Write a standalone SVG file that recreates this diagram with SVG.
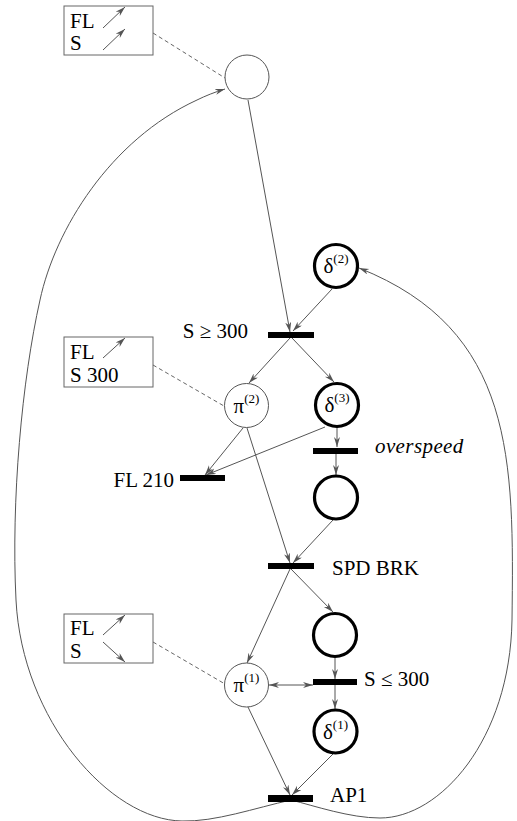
<svg xmlns="http://www.w3.org/2000/svg" width="517" height="821" viewBox="0 0 517 821">
  <style>
    text { font-family: "Liberation Serif", "Times New Roman", serif; font-size: 21px; fill: #000; }
    .sup { font-size: 13px; }
    .ital { font-style: italic; letter-spacing: 0.4px; }
    .place { fill: #fff; stroke: #555; stroke-width: 1; }
    .thick { fill: #fff; stroke: #000; stroke-width: 3.2; }
    .bar { fill: #000; }
    .box { fill: #fff; stroke: #666; stroke-width: 1; }
    .arc { fill: none; stroke: #555; stroke-width: 1; marker-end: url(#ah); }
    .both { marker-start: url(#ah); }
    .dash { fill: none; stroke: #666; stroke-width: 1; stroke-dasharray: 4 3; }
  </style>
  <defs>
    <marker id="ah" markerUnits="userSpaceOnUse" markerWidth="11" markerHeight="7" refX="10" refY="3" orient="auto-start-reverse">
      <path d="M0,0 L10,3 L0,6 L3,3 z" fill="#555"/>
    </marker>
  </defs>

  <rect width="517" height="821" fill="#fff"/>

  <!-- connectors -->
  <g id="connectors">
    <line class="arc" x1="248" y1="100" x2="290" y2="332"/>
    <line class="arc" x1="332" y1="289" x2="293" y2="331"/>
    <line class="arc" x1="290" y1="338" x2="249" y2="383"/>
    <line class="arc" x1="292" y1="338" x2="334" y2="382"/>
    <line class="arc" x1="337" y1="427" x2="337" y2="447"/>
    <line class="arc" x1="325" y1="427" x2="206" y2="475"/>
    <line class="arc" x1="243" y1="428" x2="205" y2="475"/>
    <line class="arc" x1="247" y1="428" x2="290" y2="563"/>
    <line class="arc" x1="336" y1="454" x2="336" y2="475"/>
    <line class="arc" x1="333" y1="520" x2="293" y2="563"/>
    <line class="arc" x1="291" y1="569" x2="333" y2="612"/>
    <line class="arc" x1="290" y1="569" x2="247" y2="663"/>
    <line class="arc" x1="335" y1="658" x2="335" y2="679"/>
    <line class="arc both" x1="269" y1="685" x2="313" y2="685"/>
    <line class="arc" x1="335" y1="685" x2="335" y2="709"/>
    <line class="arc" x1="248" y1="707" x2="290" y2="795"/>
    <line class="arc" x1="333" y1="754" x2="292" y2="795"/>
    <!-- AP1 back to the initial place, round the left side -->
    <path class="arc" d="M291,800 C255,808 215,822 182,821 C110,820 22,720 16,600 C11,500 22,380 40,300 C55,230 110,140 197,100 C205,96 215,92 225,89"/>
    <!-- AP1 back to delta(2), round the right side -->
    <path class="arc" d="M291,800 C315,806 350,818 380,818 C440,818 510,740 512,620 C514,460 515,330 359,268"/>
    <!-- annotation links -->
    <line class="dash" x1="153" y1="33" x2="225" y2="78"/>
    <line class="dash" x1="153" y1="365" x2="224" y2="406"/>
    <line class="dash" x1="153" y1="642" x2="225" y2="684"/>
  </g>

  <!-- annotation boxes -->
  <g id="box-top">
    <rect class="box" x="64" y="6" width="89" height="49"/>
    <text x="70" y="28">FL</text>
    <text x="70" y="50">S</text>
    <line class="arc" x1="103" y1="28" x2="125" y2="7"/>
    <line class="arc" x1="103" y1="50" x2="125" y2="29"/>
  </g>
  <g id="box-mid">
    <rect class="box" x="64" y="337" width="89" height="50"/>
    <text x="70" y="359">FL</text>
    <text x="70" y="382">S 300</text>
    <line class="arc" x1="103" y1="358" x2="125" y2="338"/>
  </g>
  <g id="box-low">
    <rect class="box" x="64" y="614" width="89" height="49"/>
    <text x="70" y="635">FL</text>
    <text x="70" y="658">S</text>
    <line class="arc" x1="103" y1="635" x2="125" y2="615"/>
    <line class="arc" x1="103" y1="642" x2="125" y2="662"/>
  </g>

  <!-- places -->
  <g id="p-start"><circle class="place" cx="247" cy="77" r="22"/></g>
  <g id="delta2">
    <circle class="thick" cx="336" cy="266" r="21.5"/>
    <text x="336" y="273" text-anchor="middle">δ<tspan class="sup" dy="-10">(2)</tspan></text>
  </g>
  <g id="pi2">
    <circle class="place" cx="246.5" cy="405.5" r="22"/>
    <text x="246.5" y="412.5" text-anchor="middle">π<tspan class="sup" dy="-10">(2)</tspan></text>
  </g>
  <g id="delta3">
    <circle class="thick" cx="337" cy="405" r="21.5"/>
    <text x="337" y="412" text-anchor="middle">δ<tspan class="sup" dy="-10">(3)</tspan></text>
  </g>
  <g id="p-over"><circle class="thick" cx="336" cy="497.5" r="21.5"/></g>
  <g id="p-brk"><circle class="thick" cx="335" cy="635" r="21.5"/></g>
  <g id="pi1">
    <circle class="place" cx="246.5" cy="685" r="22"/>
    <text x="246.5" y="692" text-anchor="middle">π<tspan class="sup" dy="-10">(1)</tspan></text>
  </g>
  <g id="delta1">
    <circle class="thick" cx="335.5" cy="731.5" r="21.5"/>
    <text x="335.5" y="738.5" text-anchor="middle">δ<tspan class="sup" dy="-10">(1)</tspan></text>
  </g>

  <!-- transitions -->
  <g id="t-s-ge-300">
    <rect class="bar" x="268" y="332" width="46" height="6"/>
    <text x="248" y="338" text-anchor="end">S ≥ 300</text>
  </g>
  <g id="t-fl210">
    <rect class="bar" x="180" y="475" width="45" height="6"/>
    <text x="174" y="487" text-anchor="end">FL 210</text>
  </g>
  <g id="t-overspeed">
    <rect class="bar" x="313" y="448" width="45" height="6"/>
    <text class="ital" x="375" y="453">overspeed</text>
  </g>
  <g id="t-spd-brk">
    <rect class="bar" x="268" y="563" width="46" height="6"/>
    <text x="332" y="575">SPD BRK</text>
  </g>
  <g id="t-s-le-300">
    <rect class="bar" x="313" y="679" width="44" height="6"/>
    <text x="364" y="686">S ≤ 300</text>
  </g>
  <g id="t-ap1">
    <rect class="bar" x="268" y="795" width="45" height="7"/>
    <text x="330" y="802">AP1</text>
  </g>
</svg>
